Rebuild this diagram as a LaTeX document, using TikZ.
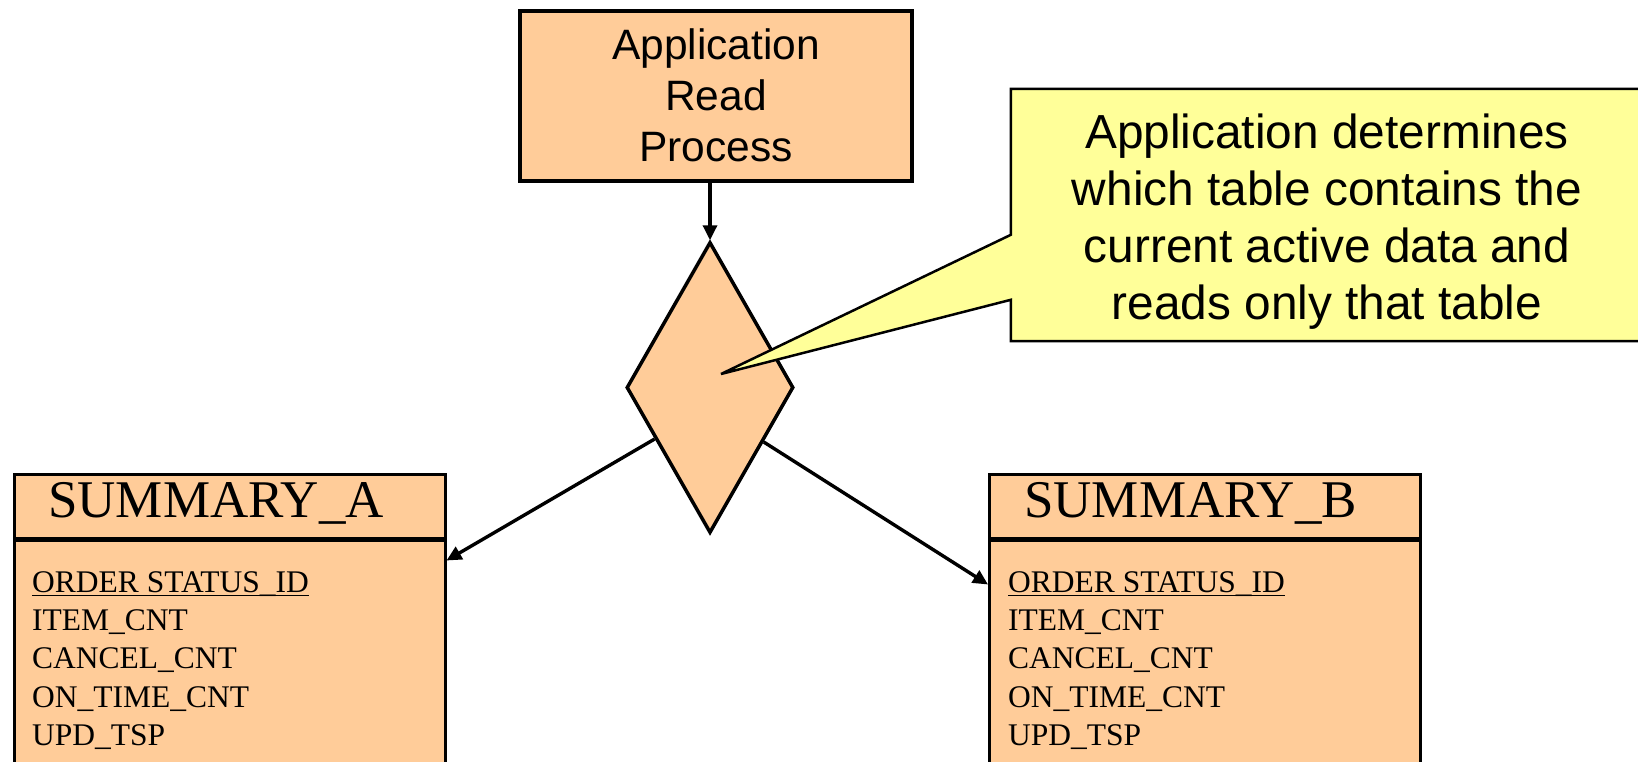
\documentclass[tikz,border=0pt]{standalone}
\usepackage{fontspec}
\setmainfont{Liberation Serif}
\newfontfamily\arialf{Liberation Sans}
\usetikzlibrary{shapes.geometric,arrows.meta,calc}
\definecolor{peach}{HTML}{FFCC99}
\definecolor{noteyellow}{HTML}{FFFF99}
\begin{document}
\begin{tikzpicture}[x=1pt,y=-1pt,
  procbox/.style={draw,line width=4pt,fill=peach,minimum width=392pt,minimum height=170pt,
    inner sep=0pt,align=center,font=\arialf\fontsize{42.5}{51}\selectfont},
  decision/.style={diamond,draw,line width=3.5pt,fill=peach,minimum width=167pt,
    minimum height=291pt,inner sep=0pt},
  tabhead/.style={draw,line width=2.5pt,fill=peach,minimum width=431pt,minimum height=64pt,
    inner sep=0pt,anchor=north west},
  tabbody/.style={draw,line width=2.5pt,fill=peach,minimum width=431pt,minimum height=250pt,
    inner sep=0pt,anchor=north west},
  tabtitle/.style={anchor=base west,inner sep=0pt,font=\fontsize{53}{60}\selectfont},
  field/.style={anchor=base west,inner sep=0pt,font=\fontsize{31.5}{38}\selectfont},
  keyline/.style={line width=1.5pt},
  notebox/.style={fill=noteyellow,minimum width=634pt,minimum height=252pt,inner sep=0pt},
  notetext/.style={inner sep=0pt,align=center,font=\arialf\fontsize{47.8}{57}\selectfont},
  noteline/.style={line width=2.5pt,line join=miter},
  link/.style={line width=3.4pt,-{Triangle[length=15pt,width=14pt]}}
]
\useasboundingbox (0,0) rectangle (1638,761);
\fill[white] (0,0) rectangle (1638,761);
\clip (0,0) rectangle (1638,761);

% process and decision
\node[procbox] (proc) at (716,95.5) {Application\\Read\\Process};
\node[decision] (dec) at (710,387.5) {};
\draw[link] (proc.south -| dec.north) -- (dec.north);

% table SUMMARY_A
\node[tabhead] (A-head) at (13,473) {};
\node[tabbody] (A-body) at (A-head.south west) {};
\node[tabtitle] (A-title) at (48,517.5) {SUMMARY\_A};
\foreach \t [count=\i] in {ORDER STATUS\_ID, ITEM\_CNT, CANCEL\_CNT, ON\_TIME\_CNT, UPD\_TSP}
  \node[field] (A-f\i) at (32,{592.7+38.1*(\i-1)}) {\t};
\draw[keyline] ($(A-f1.base west)+(0,3)$) -- ($(A-f1.base east)+(0,3)$);

% table SUMMARY_B
\node[tabhead] (B-head) at (988,473) {};
\node[tabbody] (B-body) at (B-head.south west) {};
\node[tabtitle] (B-title) at (1024,517.5) {SUMMARY\_B};
\foreach \t [count=\i] in {ORDER STATUS\_ID, ITEM\_CNT, CANCEL\_CNT, ON\_TIME\_CNT, UPD\_TSP}
  \node[field] (B-f\i) at (1008,{592.7+38.1*(\i-1)}) {\t};
\draw[keyline] ($(B-f1.base west)+(0,3)$) -- ($(B-f1.base east)+(0,3)$);

% branches to the two tables
\draw[link] ($(dec.west)!0.35!(dec.south)$) -- ($(A-body.north east)+(0,21)$);
\draw[link] ($(dec.east)!0.37!(dec.south)$) -- ($(B-body.north west)+(0,45)$);

% callout
\coordinate (tip) at (721,374);
\node[notebox] (note) at (1328,215) {};
\fill[noteyellow] ($(note.north west)+(0,146)$) -- (tip) -- ($(note.north west)+(0,211)$) -- cycle;
\draw[noteline] (note.north east) -- (note.north west) -- ($(note.north west)+(0,146)$)
  -- (tip) -- ($(note.north west)+(0,211)$) -- (note.south west) -- (note.south east);
\node[notetext] (note-text) at (1327,222)
  {Application determines\\which table contains the\\current active data and\\reads only that table};
\end{tikzpicture}
\end{document}
